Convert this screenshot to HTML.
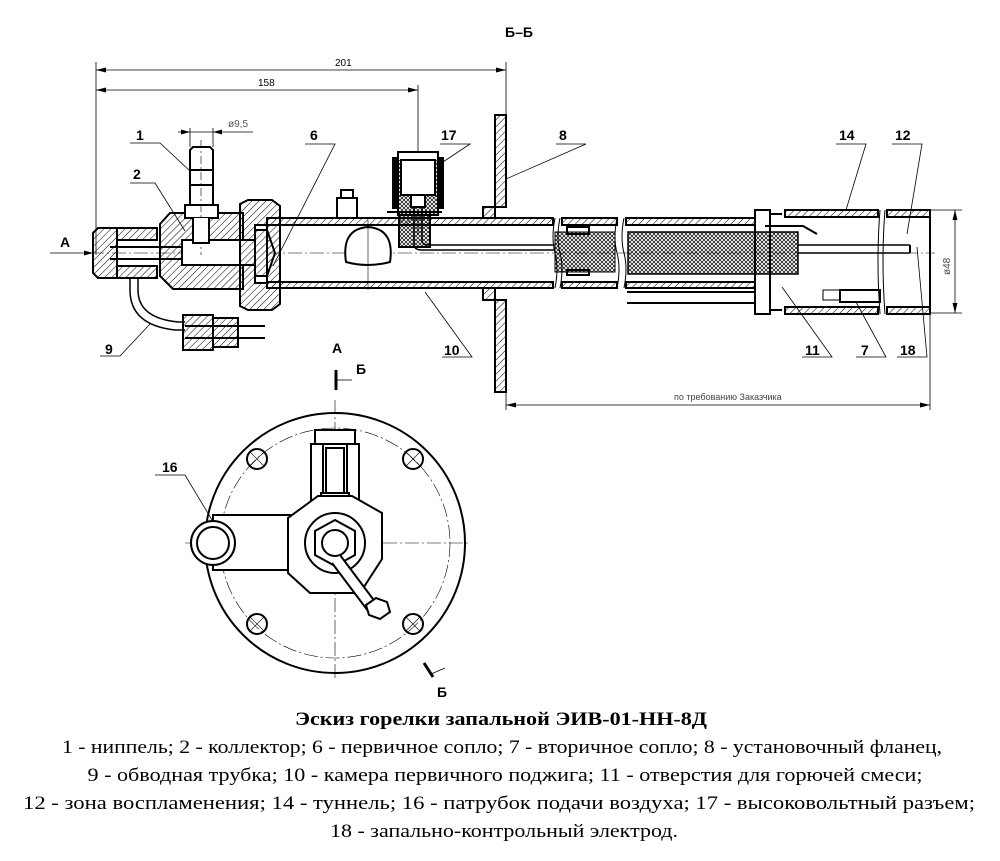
<!DOCTYPE html>
<html><head><meta charset="utf-8"><style>
html,body{margin:0;padding:0;background:#fff;}
svg{display:block;}
.lbl{font-family:"Liberation Sans",sans-serif;font-weight:bold;font-size:14px;}
.cap{font-family:"Liberation Serif",serif;font-size:19px;}
</style></head><body>
<svg width="1000" height="861" viewBox="0 0 1000 861" xmlns="http://www.w3.org/2000/svg">
<defs>
<pattern id="h" width="5" height="5" patternUnits="userSpaceOnUse" patternTransform="rotate(45)">
<line x1="0" y1="0" x2="0" y2="5" stroke="#000" stroke-width="1"/></pattern>
<pattern id="x" width="4" height="4" patternUnits="userSpaceOnUse">
<path d="M0 0L4 4M4 0L0 4" stroke="#000" stroke-width="0.7"/></pattern>
</defs>
<g fill="none" stroke="#000" stroke-width="2">
<g stroke-width="0.8">
<line x1="96" y1="62" x2="96" y2="255"/><line x1="418" y1="85" x2="418" y2="235"/><line x1="506" y1="62" x2="506" y2="115"/>
<line x1="96" y1="70" x2="506" y2="70"/><line x1="96" y1="90" x2="418" y2="90"/>
<line x1="178" y1="132" x2="253" y2="132"/><line x1="190" y1="128" x2="190" y2="147"/><line x1="213" y1="128" x2="213" y2="147"/>
<line x1="955" y1="210" x2="955" y2="313"/><line x1="930" y1="210" x2="962" y2="210"/><line x1="930" y1="313" x2="962" y2="313"/>
<line x1="506" y1="392" x2="506" y2="410"/><line x1="930" y1="313" x2="930" y2="410"/>
<line x1="506" y1="405" x2="930" y2="405"/>
<line x1="50" y1="253" x2="93" y2="253"/>
</g>
<g fill="#000" stroke="none">
<path d="M96 70l10-2.5v5zM506 70l-10-2.5v5zM96 90l10-2.5v5zM418 90l-10-2.5v5zM190 132l-9-2.5v5zM213 132l9-2.5v5zM955 210l-2.5 10h5zM955 313l-2.5-10h5zM506 405l10-2.5v5zM930 405l-10-2.5v5zM93 253l-9-2.5v5z"/>
</g>
<line x1="90" y1="253" x2="935" y2="253" stroke-width="0.6" stroke-dasharray="14 3 2 3"/>
<rect x="495" y="115" width="11" height="92" fill="url(#h)"/>
<rect x="495" y="300" width="11" height="92" fill="url(#h)"/>
<rect x="483" y="207" width="12" height="11" fill="url(#h)"/>
<rect x="483" y="288" width="12" height="12" fill="url(#h)"/>
<rect x="267" y="218" width="286" height="7" fill="url(#h)"/>
<rect x="267" y="282" width="286" height="6" fill="url(#h)"/>
<rect x="562" y="218" width="55" height="7" fill="url(#h)"/>
<rect x="562" y="282" width="55" height="6" fill="url(#h)"/>
<rect x="626" y="218" width="129" height="7" fill="url(#h)"/>
<rect x="626" y="282" width="129" height="6" fill="url(#h)"/>
<rect x="555" y="232" width="60" height="40" fill="url(#x)" stroke-width="1"/>
<rect x="628" y="232" width="170" height="42" fill="url(#x)" stroke-width="1.5"/>
<path d="M555 218q-4 20 0 35t0 35M560 218q-4 20 0 35t0 35M617 218q-4 20 0 35t0 35M624 218q-4 20 0 35t0 35" stroke-width="1"/>
<rect x="567" y="227" width="22" height="7"/>
<rect x="567" y="270" width="22" height="5"/>
<line x1="627" y1="292" x2="755" y2="292"/><line x1="627" y1="303" x2="755" y2="303"/>
<rect x="755" y="210" width="15" height="104" stroke-width="2"/>
<rect x="785" y="210" width="93" height="7" fill="url(#h)"/>
<rect x="785" y="307" width="93" height="7" fill="url(#h)"/>
<rect x="887" y="210" width="43" height="7" fill="url(#h)"/>
<rect x="887" y="307" width="43" height="7" fill="url(#h)"/>
<line x1="930" y1="210" x2="930" y2="314"/>
<path d="M880 210q-4 50 0 104M885 210q-4 50 0 104" stroke-width="1"/>
<path d="M770 214h12M770 310h12" />
<line x1="798" y1="245" x2="910" y2="245" stroke-width="1.5"/><line x1="798" y1="253" x2="910" y2="253" stroke-width="1.5"/>
<line x1="910" y1="245" x2="910" y2="253"/>
<path d="M765 226h38l14 8" stroke-width="2"/>
<rect x="823" y="290" width="17" height="10" stroke-width="1"/>
<rect x="840" y="290" width="40" height="12"/>
<path d="M93 233l5-5h19v50h-19l-5-5z" fill="url(#h)"/>
<rect x="117" y="228" width="40" height="12" fill="url(#h)"/>
<rect x="117" y="266" width="40" height="12" fill="url(#h)"/>
<line x1="110" y1="247" x2="255" y2="247"/><line x1="110" y1="259" x2="255" y2="259"/>
<path d="M160 224l10-11h20v5h23v-5h30v76h-70l-13-13z" fill="url(#h)"/>
<rect x="182" y="240" width="73" height="25" fill="#fff"/>
<path d="M240 204l8-4h24l8 6v98l-8 6h-24l-8-4z" fill="url(#h)"/>
<rect x="255" y="225" width="12" height="58" fill="#fff"/>
<path d="M255 230h12l8 23-8 23h-12z" fill="url(#h)"/>
<path d="M190 150l3-3h17l3 3v55h-23z" fill="#fff"/>
<line x1="190" y1="170" x2="213" y2="170"/><line x1="190" y1="185" x2="213" y2="185"/>
<rect x="185" y="205" width="33" height="13" fill="#fff"/>
<line x1="201" y1="140" x2="201" y2="255" stroke-width="0.6" stroke-dasharray="8 3 2 3"/>
<path d="M193 218v25h16v-25" fill="#fff"/>
<rect x="337" y="198" width="20" height="20" fill="#fff"/>
<rect x="341" y="190" width="12" height="8"/>
<path d="M346 262q-5-33 22-35q27 2 22 35q-22 6-44 0z" fill="#fff"/>
<line x1="368" y1="220" x2="368" y2="290" stroke-width="0.6"/>
<rect x="398" y="152" width="40" height="60" fill="#fff"/>
<rect x="393" y="158" width="5" height="50" fill="#000"/><rect x="438" y="158" width="5" height="50" fill="#000"/>
<path d="M398 160v55h40v-55" fill="url(#x)"/>
<rect x="401" y="160" width="34" height="35" fill="#fff"/>
<path d="M387 212h12v35h31v-35h12" />
<path d="M399 212v35h31v-35" fill="url(#x)"/>
<rect x="411" y="195" width="14" height="12" fill="#fff"/>
<path d="M414 207v37q0 6 8 6h133M422 207v33q0 5 6 5h127" stroke-width="1.5"/>
<path d="M130 278v12q0 35 45 40h10M138 278v12q0 28 40 32h7" stroke-width="1.5"/>
<rect x="183" y="315" width="30" height="35" fill="url(#h)"/>
<rect x="213" y="318" width="25" height="29" fill="url(#h)"/>
<line x1="185" y1="326" x2="265" y2="326"/><line x1="185" y1="338" x2="265" y2="338"/>
<g stroke-width="0.8">
<path d="M130 143h30l30 28"/><path d="M130 183h25l30 48"/>
<path d="M305 144h30l-62 122"/><path d="M440 144h30l-30 20"/>
<path d="M556 144h30l-80 35"/><path d="M836 144h30l-20 66"/><path d="M892 144h30l-15 90"/>
<path d="M100 356h20l30-32"/><path d="M442 357h30l-47-65"/>
<path d="M802 357h30l-50-70"/><path d="M856 357h30l-30-55"/><path d="M897 357h30l-10-110"/>
<path d="M155 475h30l27 45"/>
</g>
<line x1="336" y1="370" x2="336" y2="390" stroke-width="3"/><line x1="336" y1="380" x2="352" y2="380" stroke-width="0.8"/>
<line x1="424" y1="663" x2="433" y2="677" stroke-width="3"/><line x1="431" y1="674" x2="445" y2="668" stroke-width="0.8"/>
<circle cx="335" cy="543" r="130"/>
<circle cx="335" cy="543" r="115" stroke-width="0.6" stroke-dasharray="14 3 2 3"/>
<line x1="185" y1="543" x2="470" y2="543" stroke-width="0.6" stroke-dasharray="14 3 2 3"/>
<line x1="335" y1="400" x2="335" y2="680" stroke-width="0.6" stroke-dasharray="14 3 2 3"/>
<g stroke-width="2"><circle cx="257" cy="459" r="10"/><circle cx="413" cy="459" r="10"/><circle cx="257" cy="624" r="10"/><circle cx="413" cy="624" r="10"/></g>
<g stroke-width="0.6"><path d="M250 452l14 14M264 452l-14 14M406 452l14 14M420 452l-14 14M250 617l14 14M264 617l-14 14M406 617l14 14M420 617l-14 14"/></g>
<rect x="213" y="515" width="82" height="55" fill="#fff"/>
<circle cx="213" cy="543" r="22" fill="#fff"/><circle cx="213" cy="543" r="16"/>
<rect x="315" y="430" width="40" height="14" fill="#fff"/>
<rect x="311" y="444" width="48" height="63" fill="#fff"/>
<line x1="323" y1="444" x2="323" y2="500"/><line x1="347" y1="444" x2="347" y2="500"/>
<rect x="326" y="448" width="18" height="45" fill="#fff"/>
<rect x="321" y="493" width="28" height="16" fill="#fff"/>
<path d="M318 496h34l30 17v46l-22 34h-50l-22-20v-55z" fill="#fff"/>
<circle cx="335" cy="543" r="30" fill="#fff"/>
<path d="M335 520l20 11v24l-20 11l-20-11v-24z" fill="#fff"/>
<circle cx="335" cy="543" r="13"/>
<path d="M340 555l36 48l-8 8l-36-48" fill="#fff" stroke-width="2"/>
<path d="M366 605l10-7l11 4l3 10l-10 7l-11-4z" fill="#fff"/>
</g>
<g class="lbl" fill="#000">
<text x="505" y="37">Б–Б</text>
<text x="335" y="66" font-size="10" font-weight="normal">201</text>
<text x="258" y="86" font-size="10" font-weight="normal">158</text>
<text x="228" y="127" font-size="10" font-weight="normal" fill="#555">ø9,5</text>
<text x="136" y="140">1</text><text x="133" y="179">2</text><text x="310" y="140">6</text>
<text x="441" y="140">17</text><text x="559" y="140">8</text><text x="839" y="140">14</text><text x="895" y="140">12</text>
<text x="105" y="354">9</text><text x="444" y="355">10</text><text x="805" y="355">11</text><text x="861" y="355">7</text><text x="900" y="355">18</text>
<text x="60" y="247">А</text><text x="332" y="353">А</text><text x="356" y="374">Б</text>
<text x="162" y="472">16</text><text x="437" y="697">Б</text>
<text x="674" y="400" font-size="9" font-weight="normal" fill="#444">по требованию Заказчика</text>
<text transform="translate(950,275) rotate(-90)" font-size="10" font-weight="normal" fill="#444">ø48</text>
</g>
<g class="cap" fill="#000" text-anchor="middle">
<text x="501" y="725" font-weight="bold" textLength="412" lengthAdjust="spacingAndGlyphs">Эскиз горелки запальной ЭИВ-01-НН-8Д</text>
<text x="502" y="753" textLength="880" lengthAdjust="spacingAndGlyphs">1 - ниппель; 2 - коллектор; 6 - первичное сопло; 7 - вторичное сопло; 8 - установочный фланец,</text>
<text x="505" y="781" textLength="835" lengthAdjust="spacingAndGlyphs">9 - обводная трубка; 10 - камера первичного поджига; 11 - отверстия для горючей смеси;</text>
<text x="499" y="809" textLength="952" lengthAdjust="spacingAndGlyphs">12 - зона воспламенения; 14 - туннель; 16 - патрубок подачи воздуха; 17 - высоковольтный разъем;</text>
<text x="504" y="837" textLength="348" lengthAdjust="spacingAndGlyphs">18 - запально-контрольный электрод.</text>
</g>
</svg>
</body></html>
